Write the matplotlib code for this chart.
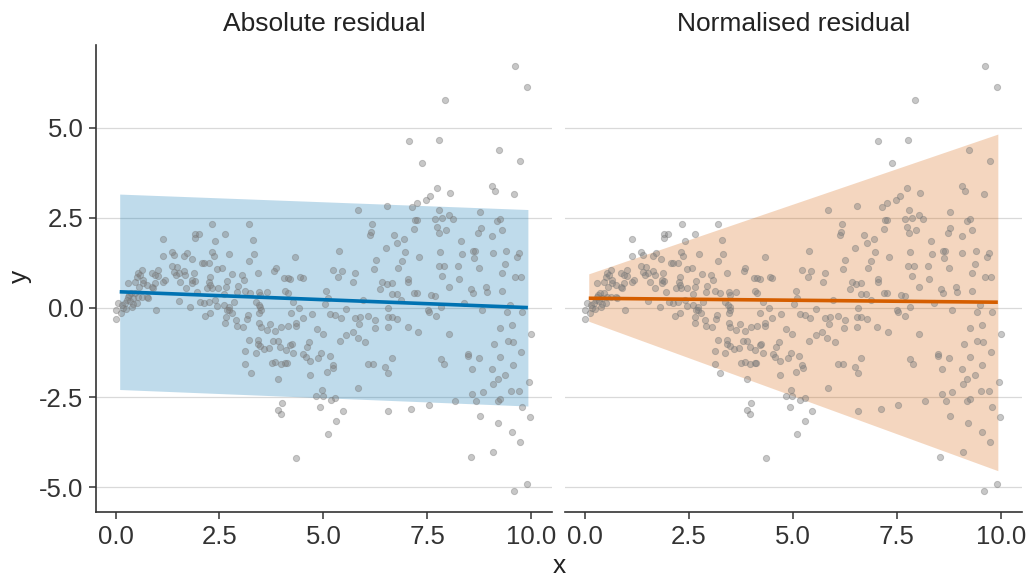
import matplotlib
matplotlib.use("Agg")
import matplotlib.pyplot as plt
import numpy as np

# ---------------- data ----------------
x_obs = [
    # dense start cluster
    0.06, 0.01, 0.02, 0.14, 0.19, 0.23, 0.27, 0.31, 0.35, 0.39, 0.33, 0.51, 0.43, 0.47, 0.55, 0.63,
    0.75, 0.79, 0.31, 0.46, 0.51, 0.55, 0.59, 0.63, 0.65, 0.67, 0.57, 0.75, 0.87, 0.91, 0.95, 0.87,
    0.95, 1.03, 1.03, 1.15, 1.18, 0.97, 1.13, 1.35, 1.48, 1.40, 1.46, 1.53, 1.64, 1.68, 1.88, 1.85,
    1.56, 1.69, 1.85, 1.90, 1.96, 1.53, 1.80, 2.02, 2.08, 1.72, 1.64, 1.84, 1.40, 1.35,
    0.16, 0.25, 0.42, 0.37,
    1.13, 1.90, 2.00, 1.90,
    # x 2.1 - 3.5
    2.33, 3.21, 2.64, 2.40, 3.30, 2.32, 2.37, 2.74, 3.32, 3.20, 2.12, 2.25, 2.45, 2.57, 2.81, 3.04,
    3.08, 3.42, 2.28, 2.26, 2.28, 2.68, 2.94, 2.20, 2.32, 2.46, 2.66, 2.92, 3.12, 3.24, 3.46, 3.48,
    2.12, 2.24, 2.40, 2.45, 2.60, 2.72, 2.84, 2.68, 2.73, 2.80, 3.38, 3.44, 3.48, 3.50, 2.16, 2.28,
    2.65, 2.64, 2.90, 2.92, 3.06, 3.18, 3.16, 3.46, 3.46, 3.50, 2.60,
    # x 3.5 - 6.6
    5.84, 6.53, 6.18, 6.15, 6.12, 5.38, 6.50, 4.32, 6.26, 6.21, 5.22, 5.44, 3.82, 3.85, 5.76, 5.36,
    4.06, 4.14, 4.20, 4.44, 4.50, 5.72, 6.42, 6.52, 6.36, 5.07, 3.64, 4.08, 4.14, 4.28, 4.42, 5.03,
    5.10, 5.96, 5.55, 6.56, 4.22, 4.72, 4.50, 5.16, 5.28, 5.42, 5.76, 5.88, 6.08, 6.24, 6.55, 3.72,
    4.33, 4.34, 4.15, 5.86, 6.23, 6.55, 3.64, 3.84, 4.84, 3.99, 3.20, 3.42, 3.43, 3.48, 3.12, 3.58,
    3.70, 3.80, 3.90, 3.96, 4.10, 4.20, 4.24, 4.60, 4.66, 4.99, 5.39, 5.55, 5.71, 5.83, 6.00, 3.38,
    4.28, 4.52, 4.58, 4.68, 4.95, 4.88, 5.15, 3.12, 3.26, 3.76, 3.84, 3.98, 4.08, 4.12, 5.22, 5.24,
    5.08, 4.68, 3.90, 6.08, 6.20, 6.48, 6.56, 5.84, 4.96, 4.83, 4.98, 5.18, 5.28, 4.00, 3.90, 3.98,
    4.92, 5.47, 6.56, 5.30, 5.10, 4.35,
    # x >= 6.6, upper
    9.61, 9.91, 7.92, 7.05, 7.77, 9.23, 7.37, 9.74, 7.74, 9.05, 9.13, 9.59, 8.05, 7.47, 7.57, 7.26,
    7.14, 7.79, 8.77, 8.02, 8.13, 7.20, 7.26, 7.69, 7.85, 9.17, 9.26, 7.18, 7.73, 7.79, 7.95, 8.78,
    8.73, 9.29, 9.06, 6.70, 6.95, 6.78, 8.31, 6.96, 7.31, 7.81, 8.33, 8.61, 8.65, 8.63, 9.07, 9.40,
    9.71, 9.65, 6.88, 6.80, 7.77, 7.90, 8.25, 8.75, 9.38,
    # x >= 6.6, lower
    9.30, 9.61, 9.75, 7.86, 8.26, 7.04, 7.04, 6.64, 8.03, 8.55, 8.61, 8.91, 8.94, 9.29, 6.64, 6.76,
    7.18, 7.26, 7.60, 7.69, 6.87, 8.38, 7.82, 9.49, 7.51, 7.53, 8.82, 9.41, 9.78, 7.70, 6.64, 6.78,
    7.03, 7.28, 8.03, 9.26, 9.54, 9.99, 9.10, 9.43, 9.57, 8.49, 8.49, 8.74, 9.26, 9.76, 6.64, 7.82,
    7.89, 8.58, 9.06, 9.55, 9.19, 9.09, 9.37, 9.94, 8.57, 8.67, 8.83, 9.51, 9.70, 9.25, 9.19, 8.17,
    7.53, 7.11, 9.77, 8.77, 9.97, 9.21, 9.53, 9.73, 9.08, 8.54, 9.58, 9.91,
]
y_obs = [
    0.12, -0.07, -0.32, -0.14, -0.02, 0.12, 0.21, 0.30, 0.17, 0.03, 0.35, 0.12, 0.26, 0.40, 0.30, 0.30,
    0.30, 0.26, 0.68, 0.72, 0.86, 0.95, 0.91, 1.05, 0.77, 0.68, 0.58, 0.63, 0.58, 0.54, 0.68, 0.97,
    0.91, 1.05, 0.88, 0.72, 0.77, -0.07, 1.44, 1.16, 1.14, 1.00, 0.91, 0.95, 1.03, 0.91, 0.95, 0.77,
    0.72, 0.54, 0.68, 0.74, 0.44, 0.19, 0.03, 0.16, 1.25, 1.53, 1.44, 1.34, 1.46, 1.56,
    0.08, -0.05, 0.10, 0.42,
    1.91, 2.05, 2.05, 1.93,
    2.34, 2.34, 2.04, 1.84, 1.88, 1.56, 1.44, 1.50, 1.49, 1.30, 1.25, 1.25, 1.07, 1.09, 0.93, 0.91,
    0.77, 0.97, 0.86, 0.72, 0.63, 0.75, 0.61, 0.54, 0.54, 0.54, 0.56, 0.44, 0.47, 0.41, 0.44, 0.35,
    0.12, 0.15, 0.21, 0.04, 0.07, 0.01, 0.16, -0.07, -0.07, -0.14, 0.16, 0.07, 0.01, -0.07, -0.23, -0.14,
    -0.25, -0.42, -0.34, -0.51, -0.53, -0.21, -0.33, -0.16, -0.42, -0.53, 0.38,
    2.72, 2.83, 2.33, 2.10, 2.02, 1.58, 1.65, 1.40, 1.32, 1.07, 1.06, 1.03, 1.03, 1.10, 0.97, 0.86,
    0.81, 0.81, 0.80, 0.86, 0.83, 0.72, 0.72, 0.67, 0.52, 0.47, 0.43, 0.47, 0.40, 0.16, 0.00, 0.10,
    0.28, 0.21, -0.04, 0.00, -0.16, -0.18, -0.30, -0.18, -0.21, -0.30, -0.30, -0.25, -0.23, -0.35, -0.27, -0.46,
    -0.42, -0.51, -0.51, -0.46, -0.58, -0.55, -0.62, -0.64, -0.60, -0.53, -0.90, -0.90, -1.00, -1.07, -1.20, -1.16,
    -1.12, -0.92, -0.92, -1.09, -1.18, -1.04, -1.01, -1.09, -0.95, -0.74, -0.93, -0.76, -0.67, -0.86, -0.95, -1.26,
    -1.27, -1.29, -1.38, -1.48, -1.27, -1.41, -1.34, -1.57, -1.83, -1.55, -1.52, -1.58, -1.55, -1.53, -1.60, -1.69,
    -1.78, -1.88, -2.00, -1.58, -1.58, -1.64, -1.83, -2.25, -2.28, -2.46, -2.46, -2.57, -2.53, -2.65, -2.85, -2.95,
    -2.78, -2.87, -2.88, -3.16, -3.53, -4.19,
    6.73, 6.13, 5.78, 4.64, 4.67, 4.40, 4.02, 4.08, 3.33, 3.38, 3.24, 3.16, 3.20, 2.99, 3.12, 2.90,
    2.81, 2.71, 2.65, 2.58, 2.46, 2.44, 2.44, 2.46, 2.49, 2.41, 2.46, 2.20, 2.23, 2.08, 2.15, 2.22,
    2.08, 2.15, 2.00, 2.02, 1.92, 1.81, 1.85, 1.54, 1.41, 1.54, 1.48, 1.58, 1.57, 1.37, 1.53, 1.58,
    1.53, 1.40, 1.30, 1.09, 1.15, 1.17, 1.17, 1.09, 1.22,
    0.97, 0.86, 0.86, 0.88, 0.80, 0.79, 0.70, 0.68, 0.56, 0.52, 0.42, 0.58, 0.44, 0.47, 0.39, 0.39,
    0.42, 0.42, 0.35, 0.33, 0.21, 0.14, 0.03, 0.07, -0.07, -0.11, -0.07, -0.13, -0.11, -0.23, -0.27, -0.32,
    -0.53, -0.68, -0.74, -0.57, -0.49, -0.74, -1.01, -0.92, -0.95, -1.29, -1.35, -1.39, -1.37, -1.24, -1.39, -1.44,
    -1.58, -1.71, -1.71, -1.59, -1.98, -2.13, -1.89, -2.08, -2.40, -2.61, -2.35, -2.31, -2.31, -2.54, -2.60, -2.61,
    -2.72, -2.83, -2.76, -3.02, -3.05, -3.21, -3.45, -3.75, -4.02, -4.16, -5.10, -4.92,
]

panel_titles = ["Absolute residual", "Normalised residual"]

# fitted line and interval, read at the two ends of the fitted range
fit_x = [0.10, 9.92]
abs_fit = [0.44, 0.00]
abs_hi = [3.16, 2.73]
abs_lo = [-2.28, -2.74]
norm_fit = [0.26, 0.15]
norm_hi = [0.94, 4.83]
norm_lo = [-0.38, -4.54]

line_colors = ["#0072B2", "#D55E00"]

x_ticks = [0.0, 2.5, 5.0, 7.5, 10.0]
x_ticklabels = ["0.0", "2.5", "5.0", "7.5", "10.0"]
y_ticks = [-5.0, -2.5, 0.0, 2.5, 5.0]
y_ticklabels = ["-5.0", "-2.5", "0.0", "2.5", "5.0"]

# ---------------- figure ----------------
plt.rcParams['font.family'] = ['Liberation Sans', 'DejaVu Sans']
W, H = 1030, 577
fig = plt.figure(figsize=(W / 100, H / 100), dpi=100)

bottom = 1 - 512 / H
height = (512 - 45) / H
ax_l = fig.add_axes([96 / W, bottom, 456 / W, height])
ax_r = fig.add_axes([565 / W, bottom, 457 / W, height])

axis_col = "#333333"
text_col = "#333333"

fits = [(abs_fit, abs_lo, abs_hi), (norm_fit, norm_lo, norm_hi)]

for i, ax in enumerate([ax_l, ax_r]):
    fit, lo, hi = fits[i]
    ax.set_xlim(-0.47, 10.5)
    ax.set_ylim(-5.69, 7.31)
    for yt in y_ticks:
        ax.axhline(yt, color="#d9d9d9", lw=0.9, zorder=0)
    ax.fill_between(fit_x, lo, hi, color=line_colors[i], alpha=0.25, lw=0, zorder=1)
    ax.scatter(x_obs, y_obs, s=20, facecolor="#7a7a7a", edgecolor="#7a7a7a",
               linewidths=0.7, alpha=0.42, zorder=2)
    ax.plot(fit_x, fit, color=line_colors[i], lw=2.6, zorder=3, solid_capstyle="butt")
    ax.set_title(panel_titles[i], fontsize=19, color="#222222", pad=10)
    for s in ["top", "right"]:
        ax.spines[s].set_visible(False)
    ax.spines["bottom"].set_color(axis_col)
    ax.spines["bottom"].set_linewidth(1.2)
    ax.set_xticks(x_ticks)
    ax.set_xticklabels(x_ticklabels)
    ax.set_yticks(y_ticks)
    ax.tick_params(axis="x", length=5, width=1.1, color=axis_col, labelsize=18.5,
                   labelcolor=text_col, pad=4)
    ax.tick_params(axis="y", length=5, width=1.1, color=axis_col, labelsize=18.5,
                   labelcolor=text_col, pad=4)

ax_l.spines["left"].set_color(axis_col)
ax_l.spines["left"].set_linewidth(1.2)
ax_l.set_yticklabels(y_ticklabels)
ax_r.spines["left"].set_visible(False)
ax_r.tick_params(axis="y", left=False, labelleft=False)

fig.text(559 / W, 1 - 566 / H, "x", ha="center", va="center", fontsize=19, color="#222222")
fig.text(20 / W, 1 - 276 / H, "y", ha="center", va="center", rotation=90, fontsize=19,
         color="#222222")

fig.savefig("out.png", dpi=100)
